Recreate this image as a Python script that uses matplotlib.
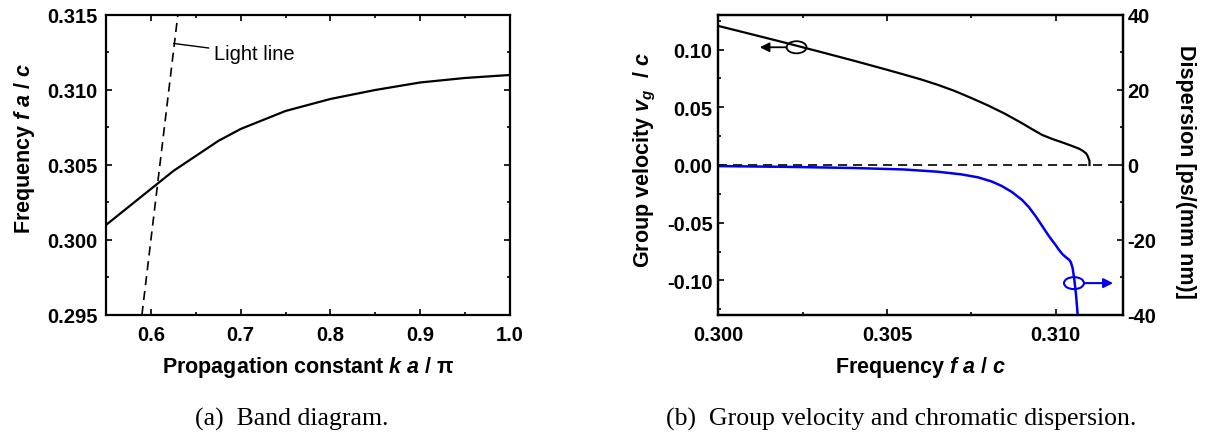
import numpy as np
import matplotlib
matplotlib.use("Agg")
import matplotlib.pyplot as plt
from matplotlib.patches import Ellipse
from matplotlib.ticker import MultipleLocator, FormatStrFormatter

plt.rcParams['font.family'] = ['Liberation Sans', 'DejaVu Sans']
plt.rcParams['font.weight'] = 'bold'
plt.rcParams['axes.labelweight'] = 'bold'
plt.rcParams['axes.unicode_minus'] = False
plt.rcParams['mathtext.fontset'] = 'custom'
plt.rcParams['mathtext.it'] = 'Liberation Sans:italic:bold'
plt.rcParams['mathtext.rm'] = 'Liberation Sans:bold'
plt.rcParams['mathtext.bf'] = 'Liberation Sans:bold'

# (a) band of the guided mode, k in units of pi/a, f in units of c/a
band_k = [0.55, 0.575, 0.60, 0.625, 0.65, 0.675, 0.70, 0.725, 0.75, 0.775,
          0.80, 0.85, 0.90, 0.95, 1.0]
band_f = [0.3010, 0.3022, 0.3034, 0.3046, 0.3056, 0.3066, 0.3074, 0.3080,
          0.3086, 0.3090, 0.3094, 0.3100, 0.3105, 0.3108, 0.3110]
light_k = [0.59, 0.63]
light_f = [0.295, 0.315]

# (b) group velocity (left axis) and dispersion (right axis)
vg_f = [0.3000, 0.3010, 0.3020, 0.3030, 0.3040, 0.3050, 0.3055, 0.3060,
        0.3065, 0.3070, 0.3075, 0.3080, 0.3085, 0.3090, 0.3093, 0.3096,
        0.3099, 0.3102, 0.3105, 0.3107, 0.3108, 0.3109, 0.31095, 0.3110,
        0.3110]
vg = [0.1205, 0.1132, 0.1058, 0.0982, 0.0905, 0.0825, 0.0784, 0.0742,
      0.0695, 0.0642, 0.0580, 0.0515, 0.0443, 0.0362, 0.0310, 0.0260,
      0.0225, 0.0195, 0.0163, 0.0140, 0.0123, 0.0100, 0.0075, 0.0035, 0.0]
disp_f = [0.3000, 0.3020, 0.3040, 0.3055, 0.3065, 0.3072, 0.3077, 0.3081,
          0.3084, 0.3087, 0.3090, 0.3092, 0.3094, 0.3096, 0.3098, 0.3100,
          0.3101, 0.3102, 0.3103, 0.3104, 0.31045, 0.3105, 0.31055, 0.3106,
          0.31065]
disp = [-0.3, -0.5, -0.8, -1.2, -1.8, -2.5, -3.3, -4.4, -5.6, -7.2, -9.3,
        -11.2, -13.6, -16.3, -19.0, -21.4, -22.7, -23.8, -24.6, -25.3, -26.0,
        -27.5, -30.5, -34.5, -40.0]

fig = plt.figure(figsize=(12.1, 4.35), dpi=100)
ax1 = fig.add_axes([0.0876, 0.2736, 0.3339, 0.6897])
ax2 = fig.add_axes([0.5936, 0.2736, 0.3347, 0.6897])
ax3 = ax2.twinx()

lw_spine = 1.6
for a in (ax1, ax2, ax3):
    for s in a.spines.values():
        s.set_linewidth(lw_spine)
    a.tick_params(which='both', direction='in', width=1.2, labelsize=14.5)
    a.tick_params(which='major', length=4.5)
    a.tick_params(which='minor', length=2.3)

dash = (0, (5.5, 3.5))
label_size = 15.5

# ---- band diagram
ax1.plot(band_k, band_f, color='black', lw=1.6)
ax1.plot(light_k, light_f, color='black', lw=1.2, ls=dash)
ax1.set_xlim(0.55, 1.0)
ax1.set_ylim(0.295, 0.315)
ax1.xaxis.set_major_locator(MultipleLocator(0.1))
ax1.xaxis.set_minor_locator(MultipleLocator(0.05))
ax1.yaxis.set_major_locator(MultipleLocator(0.005))
ax1.yaxis.set_minor_locator(MultipleLocator(0.0025))
ax1.xaxis.set_major_formatter(FormatStrFormatter('%.1f'))
ax1.yaxis.set_major_formatter(FormatStrFormatter('%.3f'))
ax1.tick_params(which='both', top=True, right=True)
ax1.tick_params(axis='x', pad=7)
ax1.tick_params(axis='y', pad=6)
ax1.set_xlabel('Propagation constant $k$ $a$ / π', fontsize=label_size)
ax1.set_ylabel('Frequency $f$ $a$ / $c$', fontsize=label_size)
ax1.xaxis.set_label_coords(0.5, -0.13)
ax1.yaxis.set_label_coords(-0.17, 0.56)
ax1.annotate('Light line', xy=(0.6254, 0.3131), xytext=(0.6707, 0.3124),
             fontsize=14.5, fontweight='normal', ha='left', va='center',
             arrowprops=dict(arrowstyle='-', color='black', lw=1.0,
                             shrinkA=2, shrinkB=0))

# ---- group velocity and dispersion
ax2.axhline(0, color='black', lw=1.2, ls=dash)
ax2.plot(vg_f, vg, color='black', lw=1.6)
ax3.plot(disp_f, disp, color='#0000ee', lw=1.8)
ax2.set_xlim(0.300, 0.312)
ax2.set_ylim(-0.13, 0.13)
ax3.set_ylim(-40, 40)
ax2.xaxis.set_major_locator(MultipleLocator(0.005))
ax2.xaxis.set_minor_locator(MultipleLocator(0.0025))
ax2.yaxis.set_major_locator(MultipleLocator(0.05))
ax2.yaxis.set_minor_locator(MultipleLocator(0.025))
ax3.yaxis.set_major_locator(MultipleLocator(20))
ax3.yaxis.set_minor_locator(MultipleLocator(10))
ax2.xaxis.set_major_formatter(FormatStrFormatter('%.3f'))
ax2.yaxis.set_major_formatter(FormatStrFormatter('%.2f'))
ax3.yaxis.set_major_formatter(FormatStrFormatter('%d'))
ax2.tick_params(which='both', top=True)
ax2.tick_params(axis='x', pad=7)
ax2.tick_params(axis='y', pad=4)
ax3.tick_params(axis='y', pad=3)
ax2.set_xlabel('Frequency $f$ $a$ / $c$', fontsize=label_size)
ax2.set_ylabel('Group velocity $v_g$  / $c$', fontsize=label_size)
ax3.set_ylabel('Dispersion [ps/(mm nm)]', fontsize=label_size, rotation=270)
ax2.xaxis.set_label_coords(0.5, -0.13)
ax2.yaxis.set_label_coords(-0.148, 0.52)
ax3.yaxis.set_label_coords(1.18, 0.48)

# axis markers: ellipse on each curve with an arrow to its axis
ax2.add_patch(Ellipse((0.30232, 0.102), 0.00059, 0.0105, fill=False,
                      ec='black', lw=1.3))
ax2.annotate('', xy=(0.30123, 0.102), xytext=(0.30202, 0.102),
             arrowprops=dict(arrowstyle='-|>', color='black', lw=1.3,
                             mutation_scale=14, shrinkA=0, shrinkB=0))
ax3.add_patch(Ellipse((0.31054, -31.5), 0.00059, 3.2, fill=False,
                      ec='#0000ee', lw=1.5))
ax3.annotate('', xy=(0.3117, -31.5), xytext=(0.31084, -31.5),
             arrowprops=dict(arrowstyle='-|>', color='#0000ee', lw=1.5,
                             mutation_scale=14, shrinkA=0, shrinkB=0))

# sub-figure captions
fig.text(0.161, 0.0214, '(a)  Band diagram.', family='Liberation Serif',
         fontweight='normal', fontsize=18.5, ha='left', va='baseline')
fig.text(0.550, 0.0214, '(b)  Group velocity and chromatic dispersion.',
         family='Liberation Serif', fontweight='normal', fontsize=18.5,
         ha='left', va='baseline')

fig.savefig('out.png', dpi=100)
